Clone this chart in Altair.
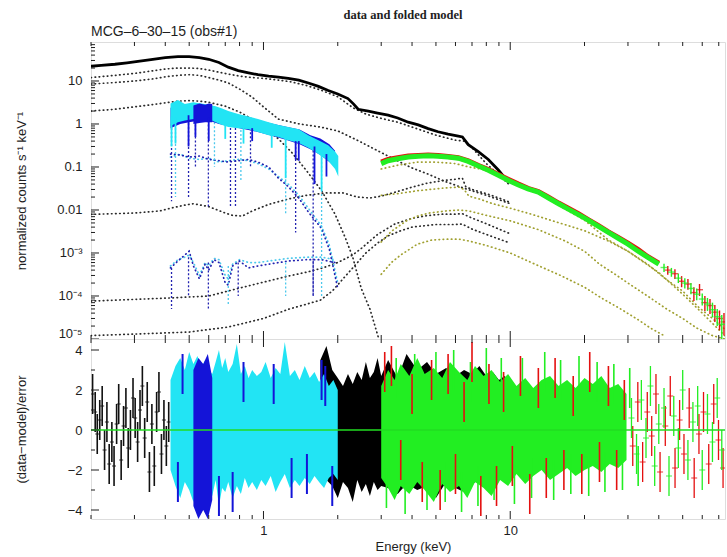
import altair as alt
import pandas as pd

W, H_TOP, H_BOT = 634, 297, 180
E_DOMAIN = [0.2, 74.2]
V_DOMAIN = [1e-5, 80.7]
R_DOMAIN = [-4.45, 4.55]
FONT = "Liberation Sans"
INK = "#1e1e1e"

# ---------------- top panel: data ----------------
pn_E = [0.2, 0.22, 0.25, 0.28, 0.31, 0.35, 0.4, 0.45, 0.5, 0.55, 0.6, 0.66, 0.72, 0.79, 0.87, 0.95,
        1.05, 1.15, 1.26, 1.39, 1.52, 1.67, 1.83, 2.0, 2.2, 2.32, 2.42, 2.66, 2.9, 3.2, 3.5, 3.86,
        4.24, 4.65, 5.1, 5.6, 6.16, 6.4, 6.76, 7.4, 8.15, 8.95, 9.8]
pn_V = [22, 23, 24.5, 26.5, 28.5, 31.5, 35, 37, 37, 35, 32, 27, 21, 17.5, 15.5, 14,
        13, 12.3, 11.5, 10.5, 9, 7.5, 6, 5.0, 3.9, 2.9, 2.2, 2.0, 1.8, 1.6, 1.38, 1.1,
        0.95, 0.78, 0.66, 0.58, 0.52, 0.5, 0.33, 0.23, 0.15, 0.085, 0.045]

rgs2_E = [0.42, 0.45, 0.48, 0.52, 0.56, 0.6, 0.64, 0.68, 0.72, 0.79, 0.87, 0.95, 1.05, 1.15,
          1.26, 1.39, 1.52, 1.67, 1.83, 1.95, 2.01]
rgs2_lo = [0.9, 1.1, 1.2, 1.3, 1.4, 1.3, 1.1, 0.95, 0.85, 0.8, 0.75, 0.65, 0.55, 0.5,
           0.42, 0.36, 0.28, 0.2, 0.14, 0.09, 0.06]
rgs2_hi = [3.0, 3.6, 2.9, 3.2, 3.0, 2.8, 2.6, 2.3, 2.0, 1.7, 1.5, 1.3, 1.1, 0.95,
           0.85, 0.75, 0.55, 0.42, 0.32, 0.23, 0.18]

rgs1_E = [0.42, 0.46, 0.5, 0.55, 0.6, 0.66, 0.72, 0.8, 0.9, 1.0, 1.1, 1.25, 1.4, 1.55, 1.7, 1.85, 1.95]
rgs1_lo = [0.8, 1.0, 1.1, 1.2, 1.2, 1.0, 0.9, 0.8, 0.7, 0.6, 0.52, 0.42, 0.34, 0.26, 0.19, 0.13, 0.1]
rgs1_hi = [2.4, 2.8, 2.6, 2.9, 2.6, 2.2, 1.9, 1.6, 1.35, 1.15, 1.0, 0.85, 0.74, 0.55, 0.46, 0.34, 0.24]

rgs1_blk_E = [0.52, 0.55, 0.58, 0.6, 0.62]
rgs1_blk_lo = [1.0, 1.05, 1.1, 1.1, 1.1]
rgs1_blk_hi = [2.7, 3.0, 2.8, 3.0, 2.9]

# absorption dips in the grating data (solid)
dipd_E = [0.424, 0.44, 0.497, 0.53, 0.6, 0.7, 0.83, 0.9, 1.08, 1.23, 1.35, 1.39, 1.61, 1.72, 1.8]
dipd_top = [1.5, 1.4, 1.6, 1.6, 1.4, 1.1, 0.9, 0.8, 0.6, 0.5, 0.4, 0.4, 0.3, 0.25, 0.2]
dipd_bot = [0.3, 0.35, 0.3, 0.5, 0.4, 0.45, 0.35, 0.4, 0.28, 0.055, 0.15, 0.14, 0.04, 0.028, 0.06]
dipd_inst = ["RGS2", "RGS2", "RGS1", "RGS1", "RGS1", "RGS2", "RGS2", "RGS1", "RGS2", "RGS2",
             "RGS1", "RGS1", "RGS1", "RGS2", "RGS1"]

# absorption dips in the grating model components (dashed)
dipm_E = [0.424, 0.44, 0.497, 0.53, 0.598, 0.633, 0.735, 0.77, 0.81, 0.886, 1.23, 1.35, 1.59, 1.72,
          0.424, 0.497, 0.598, 0.72, 0.79, 1.23, 1.59]
dipm_top = [1.0, 1.0, 1.3, 1.5, 1.2, 1.1, 1.0, 1.0, 0.9, 0.8, 0.55, 0.45, 0.3, 0.25,
            4.5e-4, 8e-4, 6e-4, 5e-4, 6e-4, 6e-4, 6.5e-4]
dipm_bot = [0.016, 0.02, 0.018, 0.1, 0.012, 0.1, 0.012, 0.012, 0.05, 0.1, 0.0075, 0.003, 1e-4, 1e-4,
            5e-5, 1e-4, 5e-5, 6e-5, 1e-4, 1e-4, 1e-4]
dipm_inst = ["RGS1", "RGS2", "RGS1", "RGS1", "RGS1", "RGS2", "RGS1", "RGS1", "RGS2", "RGS1",
             "RGS2", "RGS1", "RGS1", "RGS2", "RGS1", "RGS1", "RGS1", "RGS2", "RGS1", "RGS2", "RGS1"]

# hard-band data (red / green)
fpm_E = [3.0, 3.2, 3.5, 3.86, 4.24, 4.65, 5.1, 5.6, 6.16, 6.76, 7.4, 8.15, 8.95, 9.8, 10.8, 11.8,
         13, 14.3, 15.7, 17.2, 18.9, 20.7, 22.7, 25, 27.4, 30, 33, 36, 40]
fpma_V = [0.13, 0.15, 0.165, 0.18, 0.185, 0.19, 0.185, 0.175, 0.165, 0.14, 0.11, 0.087, 0.067, 0.052,
          0.04, 0.032, 0.027, 0.02, 0.0145, 0.011, 0.0082, 0.006, 0.0044, 0.0031, 0.0023, 0.0017,
          0.0012, 8.3e-4, 5.8e-4]
fpmb_V = [0.12, 0.14, 0.155, 0.17, 0.178, 0.182, 0.178, 0.17, 0.16, 0.135, 0.107, 0.084, 0.064, 0.049,
          0.038, 0.031, 0.026, 0.019, 0.014, 0.0105, 0.0078, 0.0058, 0.0042, 0.003, 0.0022, 0.0016,
          0.0011, 8e-4, 5.5e-4]

hxb_E = [42, 45, 48, 51, 54, 57, 60, 63, 66, 69, 72]
hxb_V = [4.6e-4, 3.6e-4, 2.6e-4, 2.0e-4, 1.5e-4, 1.1e-4, 8.5e-5, 6.5e-5, 4.8e-5, 3.3e-5, 2.2e-5]
hxb_lo = [3.6e-4, 2.8e-4, 2.0e-4, 1.5e-4, 1.1e-4, 8e-5, 6e-5, 4.5e-5, 3.2e-5, 2e-5, 1e-5]
hxb_hi = [5.6e-4, 4.5e-4, 3.3e-4, 2.6e-4, 2.0e-4, 1.5e-4, 1.15e-4, 9e-5, 7e-5, 5e-5, 3.6e-5]
hxa_E = [43.5, 46.5, 49.5, 52.5, 55.5, 58.5, 61.5, 64.5, 67.5, 70.5, 73.5]
hxa_V = [4.0e-4, 3.3e-4, 2.2e-4, 1.9e-4, 1.2e-4, 1.4e-4, 7e-5, 6e-5, 4.2e-5, 3e-5, 2.5e-5]
hxa_lo = [3.1e-4, 2.5e-4, 1.6e-4, 1.4e-4, 7.6e-5, 1.0e-4, 4.5e-5, 3.8e-5, 2.5e-5, 1.6e-5, 1.2e-5]
hxa_hi = [5.0e-4, 4.2e-4, 2.9e-4, 2.5e-4, 1.6e-4, 1.9e-4, 1.0e-4, 8.5e-5, 6.2e-5, 4.6e-5, 4.0e-5]

# ---------------- top panel: model components ----------------
c1_E = [0.2, 0.25, 0.3, 0.35, 0.4, 0.45, 0.5, 0.55, 0.6, 0.66, 0.72, 0.8, 0.9, 1.0, 1.15, 1.3, 1.5,
        1.7, 2.0, 2.3, 2.6, 3.0, 3.5, 4.0, 5.0, 6.0, 6.5, 7.0, 8.0, 9.0, 10.0]
c1_V = [12, 13.5, 15, 17, 19, 20, 20, 19.5, 18, 16, 14.5, 13, 12, 11.5, 10.5, 9.5, 7.8,
        6.2, 4.3, 2.4, 1.7, 1.35, 1.1, 0.85, 0.55, 0.42, 0.4, 0.28, 0.12, 0.065, 0.037]
c2_E = [0.2, 0.25, 0.3, 0.35, 0.4, 0.45, 0.5, 0.55, 0.6, 0.66, 0.72, 0.8, 0.9, 1.0, 1.15, 1.4, 1.7,
        2.0, 2.4, 2.9, 3.4, 4.0, 4.6, 5.4, 6.5, 8.0, 10.0]
c2_V = [8.5, 9.2, 10, 11, 12.5, 13.5, 14, 13.5, 12, 10.5, 9, 6.5, 4.2, 2.5, 1.3, 1.0, 0.85,
        0.69, 0.42, 0.24, 0.15, 0.095, 0.07, 0.047, 0.032, 0.022, 0.014]
c3_E = [0.2, 0.25, 0.3, 0.35, 0.4, 0.45, 0.5, 0.55, 0.6, 0.7, 0.8, 0.9, 1.0, 1.15, 1.3, 1.5, 1.72,
        1.95, 2.15, 2.3, 2.49, 2.7, 2.92]
c3_V = [2.0, 2.2, 2.5, 2.8, 3.1, 3.4, 3.5, 3.4, 3.2, 2.6, 1.9, 1.3, 0.85, 0.45, 0.22, 0.08, 0.028,
        0.008, 0.0022, 8e-4, 1.5e-4, 5e-5, 1.1e-5]
c4_E = [0.2, 0.3, 0.38, 0.42, 0.48, 0.52, 0.6, 0.7, 0.75, 0.82, 0.9, 1.05, 1.26, 1.5, 1.8, 2.1, 2.4,
        2.7, 3.0, 3.5, 4.0, 4.6, 5.3, 6.0, 6.4, 6.6, 7.0, 8.0, 9.0, 10.0]
c4_V = [0.0079, 0.0085, 0.0095, 0.011, 0.013, 0.014, 0.012, 0.0085, 0.0075, 0.0072, 0.0095, 0.0135,
        0.018, 0.022, 0.025, 0.025, 0.02, 0.019, 0.021, 0.027, 0.034, 0.042, 0.048, 0.052, 0.055,
        0.035, 0.03, 0.024, 0.019, 0.015]
c5_E = [0.2, 0.42, 0.6, 0.79, 1.0, 1.26, 1.5, 1.74, 2.0, 2.3, 2.5, 2.7, 2.9, 3.2, 3.4, 4.0, 4.6,
        5.3, 6.0, 6.4, 7.0, 8.0, 9.0, 10.0]
c5_V = [7.6e-5, 9e-5, 1.0e-4, 1.5e-4, 2.1e-4, 2.9e-4, 3.6e-4, 4.5e-4, 6e-4, 9e-4, 1.3e-3, 1.9e-3,
        2.7e-3, 3.8e-3, 4.7e-3, 6.4e-3, 7.4e-3, 8e-3, 8e-3, 8.2e-3, 6.5e-3, 4.8e-3, 3.6e-3, 2.8e-3]
c6_E = [0.2, 0.3, 0.5, 0.72, 1.0, 1.26, 1.5, 1.7, 1.9, 2.1, 2.3, 2.6, 2.9, 3.2, 3.6, 4.0, 5.0, 6.0,
        6.4, 7.0, 8.0, 10.0]
c6_V = [1.2e-5, 1.3e-5, 1.45e-5, 1.9e-5, 3e-5, 4.9e-5, 6.5e-5, 8e-5, 1.3e-4, 2.5e-4, 4.5e-4,
        1.0e-3, 1.7e-3, 2.5e-3, 3.3e-3, 4e-3, 4.6e-3, 4.6e-3, 4.7e-3, 3.6e-3, 2.7e-3, 1.7e-3]

b1_E = [0.42, 0.46, 0.5, 0.55, 0.6, 0.66, 0.72, 0.79, 0.87, 0.95, 1.05, 1.15, 1.26, 1.39, 1.52,
        1.72, 1.85, 2.0]
b1_blue_V = [0.2, 0.19, 0.17, 0.18, 0.15, 0.14, 0.13, 0.14, 0.15, 0.13, 0.1, 0.055, 0.035, 0.019,
             0.009, 0.0037, 0.0012, 1.5e-4]
b1_cyan_V = [0.17, 0.2, 0.16, 0.15, 0.16, 0.13, 0.14, 0.15, 0.14, 0.12, 0.09, 0.06, 0.04, 0.022,
             0.011, 0.0042, 0.0015, 2e-4]
b2_E = [0.42, 0.45, 0.48, 0.5, 0.52, 0.55, 0.58, 0.6, 0.63, 0.66, 0.7, 0.72, 0.75, 0.8, 0.87, 0.95,
        1.05, 1.26, 1.5, 1.72, 1.95]
b2_blue_V = [4.5e-4, 6.5e-4, 9e-4, 1.1e-3, 5e-4, 2.5e-4, 5.5e-4, 4e-4, 7e-4, 6e-4, 2e-4, 1.8e-4,
             5e-4, 6.5e-4, 4.5e-4, 5e-4, 5.5e-4, 6.5e-4, 7e-4, 7e-4, 6e-4]
b2_cyan_V = [5e-4, 7e-4, 8e-4, 9e-4, 6e-4, 3e-4, 6e-4, 5e-4, 7.5e-4, 7e-4, 3e-4, 2.5e-4, 5.5e-4,
             7e-4, 6e-4, 6e-4, 6.5e-4, 7.5e-4, 8e-4, 8e-4, 7e-4]

n1_E = [3.0, 3.5, 4.2, 5.0, 6.0, 6.8, 8.0, 9.2, 10.8, 13, 16, 20, 25, 30, 36, 43, 50, 58, 66, 74]
n1_V = [0.09, 0.11, 0.13, 0.13, 0.12, 0.1, 0.085, 0.065, 0.042, 0.025, 0.012, 0.0058, 0.002, 0.0011,
        5.5e-4, 2.4e-4, 1.3e-4, 5.5e-5, 3e-5, 1.7e-5]
nz_E = [3.0, 3.5, 4.2, 5.0, 5.6, 6.2, 6.5, 6.8, 7.5, 8.5, 10, 12, 15, 20, 25, 30, 40, 50, 60, 74]
nz_V = [0.022, 0.024, 0.028, 0.031, 0.033, 0.034, 0.03, 0.021, 0.018, 0.014, 0.011, 0.0082, 0.0055,
        0.0033, 0.0019, 0.0011, 3.5e-4, 1.1e-4, 4e-5, 1.2e-5]
ny_E = [3.0, 3.3, 3.8, 4.2, 4.7, 5.5, 6.2, 6.8, 8, 10, 13, 16.7, 20, 23, 26.6, 30, 36, 43, 50, 57,
        66, 74]
ny_V = [1.8e-3, 3.2e-3, 5.6e-3, 7.2e-3, 8.5e-3, 9.5e-3, 0.01, 0.0095, 0.0075, 0.0056, 0.0035,
        0.0019, 0.0011, 5.5e-4, 3.2e-4, 2e-4, 1e-4, 5e-5, 3e-5, 1.8e-5, 1.2e-5, 1e-5]
nx_E = [3.0, 3.3, 3.6, 4.2, 4.8, 5.5, 6.2, 6.8, 8, 10, 12.6, 16, 20, 23.4, 28, 33, 37, 42]
nx_V = [3.2e-4, 6e-4, 9e-4, 1.6e-3, 2e-3, 2.1e-3, 2.1e-3, 1.9e-3, 1.5e-3, 1e-3, 5.5e-4, 3e-4,
        1.6e-4, 9e-5, 5e-5, 2.8e-5, 1.8e-5, 1.2e-5]

# ---------------- bottom panel: residuals ----------------
pn_lo_E = [0.203, 0.208, 0.212, 0.217, 0.222, 0.227, 0.232, 0.237, 0.243, 0.248, 0.254, 0.259,
           0.265, 0.271, 0.277, 0.283, 0.289, 0.296, 0.302, 0.309, 0.316, 0.323, 0.330, 0.338,
           0.345, 0.353, 0.361, 0.369, 0.377, 0.386, 0.395, 0.404, 0.413]
pn_lo_r = [1.8, 0.9, -0.2, 0.5, 1.2, -1.0, 0.4, -1.7, -0.6, -1.8, 0.3, 1.3, -1.5, 0.2, 1.1, -0.9,
           0.0, 1.6, 0.6, -0.6, 1.0, 2.2, -0.4, 1.4, -2.1, 0.3, -1.8, 0.9, 1.9, -1.2, 0.5, -0.8, 0.4]

rgs2_res_E = [0.42, 0.44, 0.46, 0.48, 0.5, 0.52, 0.54, 0.56, 0.58, 0.6, 0.62, 0.64, 0.66, 0.68, 0.7,
              0.72, 0.75, 0.78, 0.81, 0.84, 0.87, 0.9, 0.94, 0.98, 1.02, 1.07, 1.12, 1.17, 1.22,
              1.28, 1.34, 1.4, 1.47, 1.54, 1.61, 1.68, 1.76, 1.84, 1.92, 2.0]
rgs2_res_hi = [2.5, 3.2, 3.6, 3.0, 3.9, 3.3, 3.7, 3.1, 3.5, 3.0, 2.8, 3.4, 4.0, 3.1, 3.6, 2.9, 3.3,
               4.3, 2.8, 3.2, 2.6, 3.0, 2.7, 2.9, 3.4, 2.6, 3.1, 2.8, 4.4, 2.7, 3.0, 2.5, 3.2, 2.6,
               2.9, 2.4, 2.8, 2.2, 2.5, 2.0]
rgs2_res_lo = [-2.0, -2.8, -3.4, -2.6, -3.0, -3.6, -2.9, -3.4, -3.0, -2.7, -3.3, -2.5, -3.8, -2.9,
               -3.1, -2.6, -3.4, -2.8, -3.2, -2.4, -2.9, -2.6, -3.0, -2.5, -2.8, -2.3, -3.1, -2.6,
               -2.2, -2.9, -2.5, -2.8, -2.4, -2.7, -2.3, -2.6, -2.9, -2.4, -2.2, -2.5]
rgs1_res_E = [0.52, 0.545, 0.57, 0.595, 0.62]
rgs1_res_hi = [3.0, 3.6, 3.3, 3.8, 2.6]
rgs1_res_lo = [-3.8, -4.45, -4.0, -4.45, -3.5]
rgs1_spk_E = [0.45, 0.47, 0.66, 0.75, 0.83, 1.1, 1.3, 1.5, 1.72, 1.78, 1.9]
rgs1_spk_r = [-2.6, 2.8, -3.3, -3.1, 2.4, 2.3, -2.4, -2.2, 2.5, 2.2, -2.8]

pn_res_E = [1.7, 1.8, 1.9, 2.0, 2.1, 2.2, 2.3, 2.4, 2.5, 2.6, 2.7, 2.8, 2.9, 3.0, 3.2, 3.5, 3.8, 4.2,
            4.6, 5.0, 5.5, 6.0, 6.5, 7.0, 7.5, 8.0, 8.5, 9.0, 9.5, 10.0]
pn_res_hi = [3.5, 4.2, 3.0, 2.6, 2.2, 2.8, 2.3, 2.9, 2.5, 3.4, 2.6, 2.9, 3.6, 2.7, 3.5, 2.6, 3.8,
             3.0, 3.4, 2.8, 3.1, 2.7, 3.0, 2.8, 3.2, 2.7, 2.9, 2.5, 2.7, 2.3]
pn_res_lo = [-2.0, -2.5, -2.8, -3.4, -2.6, -2.9, -3.6, -2.5, -3.1, -2.7, -3.3, -2.6, -3.0, -2.8,
             -2.9, -3.2, -2.7, -3.0, -2.8, -3.4, -2.6, -2.9, -3.1, -2.7, -2.5, -2.9, -2.6, -2.4,
             -2.3, -2.1]

fpm_res_E = [3.0, 3.2, 3.4, 3.6, 3.9, 4.2, 4.5, 4.9, 5.3, 5.7, 6.2, 6.7, 7.2, 7.8, 8.4, 9.1, 9.8,
             10.6, 11.5, 12.4, 13.4, 14.5, 15.7, 17, 18.4, 20, 21.6, 23.4, 25.3, 27.4, 29.6]
fpm_res_hi = [2.2, 3.0, 2.5, 3.3, 2.7, 3.6, 2.8, 3.1, 2.6, 3.4, 2.9, 2.5, 3.2, 2.7, 3.0, 2.4, 2.8,
              2.2, 2.6, 2.1, 2.5, 2.7, 2.2, 2.5, 2.1, 2.6, 2.3, 2.7, 2.1, 2.3, 1.8]
fpm_res_lo = [-2.4, -2.9, -3.5, -2.8, -3.2, -2.6, -3.0, -3.6, -2.7, -3.1, -2.8, -3.4, -2.6, -2.9,
              -3.3, -2.5, -2.8, -2.2, -2.7, -2.3, -2.0, -2.5, -2.2, -1.9, -2.3, -2.0, -1.8, -2.1,
              -1.7, -1.9, -1.5]
fpmb_spk_E = [3.15, 3.45, 3.75, 4.1, 4.6, 5.0, 5.45, 5.9, 6.35, 6.9, 7.4, 8.0, 8.6, 9.2, 10.4, 11.2,
              12.2, 13.8, 15, 16, 17.6, 19, 20.8, 22.5, 24.2, 26.3, 28.5, 30.5, 33]
fpmb_spk_r = [-2.9, 2.6, -3.2, 2.8, -3.0, 2.9, -2.6, 3.0, -3.1, 2.4, -2.8, 3.1, -2.5, 2.6, -2.7, 2.6,
              -2.4, 2.9, -2.5, 2.5, -2.2, 2.7, -2.3, 2.4, -2.1, 2.3, -2.0, 2.1, -1.8]
fpma_spk_E = [3.1, 3.3, 3.6, 4.0, 4.4, 4.8, 5.2, 5.6, 6.0, 6.5, 7.0, 7.6, 8.2, 8.8, 9.4, 10.2, 11,
              12, 13, 14, 15.2, 16.5, 18, 19.5, 21, 23, 25, 27, 29]
fpma_spk_r = [2.9, 3.2, -1.5, 1.8, -2.6, 2.5, -3.0, 2.8, -2.2, 1.4, 3.4, -3.3, 2.3, -2.8, 1.9, -1.8,
              2.7, -3.2, 2.1, -2.4, 2.6, -2.0, 1.7, -2.2, 2.9, -1.6, 2.2, -2.0, 1.5]

hr_E = [31, 32.5, 34, 35.5, 37, 38.5, 40, 42, 44, 46, 48, 50, 52.5, 55, 57.5, 60, 63, 66, 69, 72]
hr_fpmb_r = [0.6, -1.2, 1.5, -0.4, 2.2, -1.8, 0.3, 1.1, -2.3, 0.7, -0.9, 2.0, -1.5, 0.4, 1.2, -2.0,
             0.8, -0.6, 1.6, -1.0]
hr_fpma_r = [-0.8, 1.4, -1.6, 0.9, -0.3, 1.8, -2.1, 0.2, 1.7, -1.9, 0.5, -1.2, 1.1, -2.4, -0.2, 0.9,
             -1.7, 1.3, -0.5, -1.9]

# axis tick positions
x_major = [1, 10]
x_minor = [0.2, 0.3, 0.4, 0.5, 0.6, 0.7, 0.8, 0.9, 2, 3, 4, 5, 6, 7, 8, 9, 20, 30, 40, 50, 60, 70]
y_major_top = [1e-5, 1e-4, 1e-3, 0.01, 0.1, 1, 10]
y_minor_top = [m * d for d in y_major_top for m in range(2, 10) if m * d < 80]
r_major = [-4, -2, 0, 2, 4]
r_minor = [-3, -1, 1, 3]

# ---------------- encodings ----------------
xs = alt.Scale(type="log", domain=E_DOMAIN, nice=False)
ys_top = alt.Scale(type="log", domain=V_DOMAIN, nice=False)
ys_bot = alt.Scale(domain=R_DOMAIN, nice=False, zero=False)

lab = dict(labelFont=FONT, labelFontSize=13, labelColor=INK, titleFont=FONT, titleFontSize=13,
           titleFontWeight="normal", titleColor=INK, ticks=False, domain=False, grid=False)
top_yaxis = alt.Axis(title="normalized counts s⁻¹ keV⁻¹", values=y_major_top,
                     labelExpr="datum.value < 5e-5 ? '10⁻⁵' : datum.value < 5e-4 ? '10⁻⁴' : "
                               "datum.value < 5e-3 ? '10⁻³' : datum.value < 0.05 ? '0.01' : "
                               "datum.value < 0.5 ? '0.1' : datum.value < 5 ? '1' : '10'",
                     labelFlush=True, labelFlushOffset=1,
                     labelPadding=9, titleX=-70, titleBaseline="middle", **lab)
bot_yaxis = alt.Axis(title="(data−model)/error", values=r_major, format="d",
                     labelPadding=9, titleX=-70, titleBaseline="middle", **lab)
bot_xaxis = alt.Axis(title="Energy (keV)", values=x_major, labelExpr="datum.value < 5 ? '1' : '10'",
                     labelPadding=5, titlePadding=3, titleX=322, **lab)


def xt(f):
    return alt.X(f, type="quantitative", scale=xs, axis=None)


def yt(f):
    return alt.Y(f, type="quantitative", scale=ys_top, axis=top_yaxis)


def xb(f):
    return alt.X(f, type="quantitative", scale=xs, axis=bot_xaxis)


def yb(f):
    return alt.Y(f, type="quantitative", scale=ys_bot, axis=bot_yaxis)


def long(pairs):
    rows = []
    for name, (es, vs) in pairs.items():
        for e, v in zip(es, vs):
            rows.append({"comp": name, "E": e, "V": v})
    return pd.DataFrame(rows)


def bars(es, rs, scale=1.0):
    df = pd.DataFrame({"E": [e * scale for e in es], "r": rs})
    df["r1"], df["r2"] = df.r - 1, df.r + 1
    return df


DOT = dict(strokeDash=[0.5, 3.6], strokeCap="round", strokeWidth=1.7, clip=True)
BLUE, CYAN, GREEN, RED, OLIVE = "#1414d8", "#22e4f4", "#22ee22", "#e41010", "#a0a030"

# ---------------- top panel layers ----------------
black_models = long({"c1": (c1_E, c1_V), "c2": (c2_E, c2_V), "c3": (c3_E, c3_V),
                     "c4": (c4_E, c4_V), "c5": (c5_E, c5_V), "c6": (c6_E, c6_V)})
blue_models = long({"b1": (b1_E, b1_blue_V), "b2": (b2_E, b2_blue_V)})
cyan_models = long({"b1": (b1_E, b1_cyan_V), "b2": (b2_E, b2_cyan_V)})
olive_models = long({"n1": (n1_E, n1_V), "nz": (nz_E, nz_V), "ny": (ny_E, ny_V), "nx": (nx_E, nx_V)})

dipm = pd.DataFrame({"E": dipm_E, "top": dipm_top, "bot": dipm_bot, "inst": dipm_inst})
dipd = pd.DataFrame({"E": dipd_E, "top": dipd_top, "bot": dipd_bot, "inst": dipd_inst})

top_layers = [
    alt.Chart(black_models).mark_line(color="#2a2a2a", **DOT).encode(x=xt("E"), y=yt("V"), detail="comp:N"),
    alt.Chart(cyan_models).mark_line(color="#4cc8ec", **DOT).encode(x=xt("E"), y=yt("V"), detail="comp:N"),
    alt.Chart(blue_models).mark_line(color="#2222b0", **DOT).encode(x=xt("E"), y=yt("V"), detail="comp:N"),
    alt.Chart(dipm[dipm.inst == "RGS2"]).mark_rule(color="#4cc8ec", strokeDash=[2, 2], strokeWidth=1.3, clip=True)
       .encode(x=xt("E"), y=yt("top"), y2="bot"),
    alt.Chart(dipm[dipm.inst == "RGS1"]).mark_rule(color="#2222b0", strokeDash=[2, 2], strokeWidth=1.3, clip=True)
       .encode(x=xt("E"), y=yt("top"), y2="bot"),
    alt.Chart(olive_models).mark_line(color=OLIVE, **DOT).encode(x=xt("E"), y=yt("V"), detail="comp:N"),
    alt.Chart(pd.DataFrame({"E": pn_E, "V": pn_V})).mark_line(color="#000000", strokeWidth=2.8, clip=True)
       .encode(x=xt("E"), y=yt("V")),
    alt.Chart(pd.DataFrame({"E": rgs1_E, "lo": rgs1_lo, "hi": rgs1_hi})).mark_area(color=BLUE, clip=True)
       .encode(x=xt("E"), y=yt("hi"), y2="lo"),
    alt.Chart(pd.DataFrame({"E": rgs2_E, "lo": rgs2_lo, "hi": rgs2_hi})).mark_area(color=CYAN, clip=True)
       .encode(x=xt("E"), y=yt("hi"), y2="lo"),
    alt.Chart(pd.DataFrame({"E": rgs1_blk_E, "lo": rgs1_blk_lo, "hi": rgs1_blk_hi})).mark_area(color=BLUE, clip=True)
       .encode(x=xt("E"), y=yt("hi"), y2="lo"),
    alt.Chart(dipd[dipd.inst == "RGS2"]).mark_rule(color=CYAN, strokeWidth=1.8, clip=True)
       .encode(x=xt("E"), y=yt("top"), y2="bot"),
    alt.Chart(dipd[dipd.inst == "RGS1"]).mark_rule(color=BLUE, strokeWidth=1.8, clip=True)
       .encode(x=xt("E"), y=yt("top"), y2="bot"),
    alt.Chart(pd.DataFrame({"E": fpm_E, "V": fpma_V})).mark_line(color=RED, strokeWidth=5, clip=True)
       .encode(x=xt("E"), y=yt("V")),
    alt.Chart(pd.DataFrame({"E": fpm_E, "V": fpmb_V})).mark_line(color=GREEN, strokeWidth=5, clip=True)
       .encode(x=xt("E"), y=yt("V")),
    alt.Chart(pd.DataFrame({"E": hxa_E, "lo": hxa_lo, "hi": hxa_hi})).mark_rule(color=RED, strokeWidth=1.4, clip=True)
       .encode(x=xt("E"), y=yt("lo"), y2="hi"),
    alt.Chart(pd.DataFrame({"E": hxa_E, "V": hxa_V})).mark_tick(color=RED, orient="horizontal", size=7, thickness=1.4, clip=True)
       .encode(x=xt("E"), y=yt("V")),
    alt.Chart(pd.DataFrame({"E": hxb_E, "lo": hxb_lo, "hi": hxb_hi})).mark_rule(color=GREEN, strokeWidth=1.4, clip=True)
       .encode(x=xt("E"), y=yt("lo"), y2="hi"),
    alt.Chart(pd.DataFrame({"E": hxb_E, "V": hxb_V})).mark_tick(color=GREEN, orient="horizontal", size=7, thickness=1.4, clip=True)
       .encode(x=xt("E"), y=yt("V")),
    # inward ticks
    alt.Chart(pd.DataFrame({"v": x_major})).mark_rule(color=INK).encode(x=xt("v"), y=alt.value(0), y2=alt.value(8)),
    alt.Chart(pd.DataFrame({"v": x_minor})).mark_rule(color=INK).encode(x=xt("v"), y=alt.value(0), y2=alt.value(4)),
    alt.Chart(pd.DataFrame({"v": x_major})).mark_rule(color=INK).encode(x=xt("v"), y=alt.value(H_TOP), y2=alt.value(H_TOP - 8)),
    alt.Chart(pd.DataFrame({"v": x_minor})).mark_rule(color=INK).encode(x=xt("v"), y=alt.value(H_TOP), y2=alt.value(H_TOP - 4)),
    alt.Chart(pd.DataFrame({"v": y_major_top})).mark_rule(color=INK).encode(y=yt("v"), x=alt.value(0), x2=alt.value(8)),
    alt.Chart(pd.DataFrame({"v": y_minor_top})).mark_rule(color=INK).encode(y=yt("v"), x=alt.value(0), x2=alt.value(4)),
    # titles
    alt.Chart(pd.DataFrame({"t": ["data and folded model"]})).mark_text(
        font="Liberation Serif", fontWeight="bold", fontSize=12.5, align="center", baseline="middle", color=INK)
       .encode(text="t:N", x=alt.value(312), y=alt.value(-27)),
    alt.Chart(pd.DataFrame({"t": ["MCG–6–30–15 (obs#1)"]})).mark_text(
        font=FONT, fontSize=14, align="left", baseline="middle", color=INK)
       .encode(text="t:N", x=alt.value(0), y=alt.value(-10)),
]
top = alt.layer(*top_layers).properties(width=W, height=H_TOP)

# ---------------- bottom panel layers ----------------
bars_lo = bars(pn_lo_E, pn_lo_r)
spk_b = bars(rgs1_spk_E, rgs1_spk_r)
spk_a = bars(fpma_spk_E, fpma_spk_r)
spk_g = bars(fpmb_spk_E, fpmb_spk_r)
hr_b = bars(hr_E, hr_fpmb_r)
hr_a = bars(hr_E, hr_fpma_r, 1.012)

bot_layers = [
    alt.Chart(bars_lo).mark_rule(color="#111111", strokeWidth=1.6, clip=True).encode(x=xb("E"), y=yb("r1"), y2="r2"),
    alt.Chart(bars_lo).mark_tick(color="#111111", orient="horizontal", size=4, thickness=1.2, clip=True).encode(x=xb("E"), y=yb("r")),
    alt.Chart(pd.DataFrame({"E": pn_res_E, "lo": pn_res_lo, "hi": pn_res_hi})).mark_area(color="#000000", clip=True)
       .encode(x=xb("E"), y=yb("hi"), y2="lo"),
    alt.Chart(pd.DataFrame({"E": rgs2_res_E, "lo": rgs2_res_lo, "hi": rgs2_res_hi})).mark_area(color=CYAN, clip=True)
       .encode(x=xb("E"), y=yb("hi"), y2="lo"),
    alt.Chart(pd.DataFrame({"E": rgs1_res_E, "lo": rgs1_res_lo, "hi": rgs1_res_hi})).mark_area(color=BLUE, clip=True)
       .encode(x=xb("E"), y=yb("hi"), y2="lo"),
    alt.Chart(spk_b).mark_rule(color=BLUE, strokeWidth=2, clip=True).encode(x=xb("E"), y=yb("r1"), y2="r2"),
    alt.Chart(pd.DataFrame({"E": fpm_res_E, "lo": fpm_res_lo, "hi": fpm_res_hi})).mark_area(color=GREEN, clip=True)
       .encode(x=xb("E"), y=yb("hi"), y2="lo"),
    alt.Chart(spk_g).mark_rule(color=GREEN, strokeWidth=1.6, clip=True).encode(x=xb("E"), y=yb("r1"), y2="r2"),
    alt.Chart(spk_a).mark_rule(color=RED, strokeWidth=1.6, clip=True).encode(x=xb("E"), y=yb("r1"), y2="r2"),
    alt.Chart(hr_a).mark_rule(color=RED, strokeWidth=1.3, clip=True).encode(x=xb("E"), y=yb("r1"), y2="r2"),
    alt.Chart(hr_a).mark_tick(color=RED, orient="horizontal", size=6, thickness=1.2, clip=True).encode(x=xb("E"), y=yb("r")),
    alt.Chart(hr_b).mark_rule(color=GREEN, strokeWidth=1.3, clip=True).encode(x=xb("E"), y=yb("r1"), y2="r2"),
    alt.Chart(hr_b).mark_tick(color=GREEN, orient="horizontal", size=6, thickness=1.2, clip=True).encode(x=xb("E"), y=yb("r")),
    alt.Chart(pd.DataFrame({"r": [0]})).mark_rule(color="#22dd22", strokeWidth=1.3).encode(y=yb("r")),
    # inward ticks
    alt.Chart(pd.DataFrame({"v": x_major})).mark_rule(color=INK).encode(x=xb("v"), y=alt.value(0), y2=alt.value(8)),
    alt.Chart(pd.DataFrame({"v": x_minor})).mark_rule(color=INK).encode(x=xb("v"), y=alt.value(0), y2=alt.value(4)),
    alt.Chart(pd.DataFrame({"v": x_major})).mark_rule(color=INK).encode(x=xb("v"), y=alt.value(H_BOT), y2=alt.value(H_BOT - 8)),
    alt.Chart(pd.DataFrame({"v": x_minor})).mark_rule(color=INK).encode(x=xb("v"), y=alt.value(H_BOT), y2=alt.value(H_BOT - 4)),
    alt.Chart(pd.DataFrame({"v": r_major})).mark_rule(color=INK).encode(y=yb("v"), x=alt.value(0), x2=alt.value(8)),
    alt.Chart(pd.DataFrame({"v": r_minor})).mark_rule(color=INK).encode(y=yb("v"), x=alt.value(0), x2=alt.value(4)),
]
bottom = alt.layer(*bot_layers).properties(width=W, height=H_BOT)

chart = (
    alt.vconcat(top, bottom, spacing=0, bounds="flush")
    .properties(padding={"left": 14, "top": 8, "right": 0, "bottom": 0})
    .configure_view(stroke=INK, strokeWidth=1)
    .configure(background="white")
)
chart.save("out.html", embed_options={"renderer": "svg", "actions": False})
